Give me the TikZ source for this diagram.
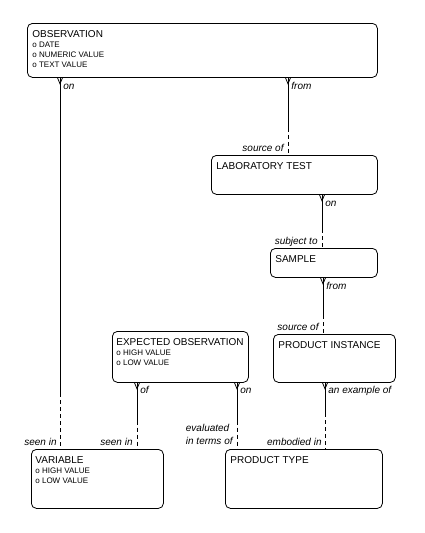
\documentclass[tikz,border=0pt]{standalone}
\usepackage{fontspec}
\setmainfont{Liberation Sans}
\usetikzlibrary{calc}

\tikzset{
  entity/.style={draw, rounded corners=5, anchor=north west, inner sep=0, line width=0.8pt},
  title/.style={anchor=base west, inner sep=0, font=\fontsize{10}{11}\selectfont},
  attr/.style={anchor=north west, inner sep=0, align=left, font=\fontsize{8}{10}\selectfont},
  rlab/.style={anchor=base west, inner sep=0, font=\fontsize{10}{13}\selectfont\itshape},
  llab/.style={anchor=base east, inner sep=0, align=left, font=\fontsize{10}{13}\selectfont\itshape},
  opt/.style={dash pattern=on 4pt off 3pt}
}

% crow's foot at the many end, solid half, dashed half
\newcommand{\rel}[3]{%
  \draw ($(#1)+(-2.5,0)$) -- ($(#1)+(0,6)$) -- ($(#1)+(2.5,0)$);
  \draw (#1) -- ($(#1)!#3!(#2)$);
  \draw[opt] ($(#1)!#3!(#2)$) -- (#2);
}

\begin{document}
\begin{tikzpicture}[x=1pt, y=-1pt, line width=0.8pt]
  \useasboundingbox (0,0) rectangle (425,533);

  % Entities
  \node[entity, minimum width=350, minimum height=54] (obs) at (27,23) {};
  \node[entity, minimum width=166, minimum height=39] (lab) at (211,155) {};
  \node[entity, minimum width=107, minimum height=29] (smp) at (270,248) {};
  \node[entity, minimum width=136, minimum height=51] (expo) at (112,331) {};
  \node[entity, minimum width=122, minimum height=48] (pins) at (273,334) {};
  \node[entity, minimum width=132, minimum height=59] (var) at (31,449) {};
  \node[entity, minimum width=157, minimum height=59] (ptype) at (225,449) {};

  % Titles and attributes
  \node[title] (obs-t) at ([shift={(5,14)}]obs.north west) {OBSERVATION};
  \node[attr] (obs-a) at ([shift={(5,18.5)}]obs.north west) {o DATE\\o NUMERIC VALUE\\o TEXT VALUE};
  \node[title] (lab-t) at ([shift={(5,14)}]lab.north west) {LABORATORY TEST};
  \node[title] (smp-t) at ([shift={(5,14)}]smp.north west) {SAMPLE};
  \node[title] (expo-t) at ([shift={(4,14)}]expo.north west) {EXPECTED OBSERVATION};
  \node[attr] (expo-a) at ([shift={(4,18.5)}]expo.north west) {o HIGH VALUE\\o LOW VALUE};
  \node[title] (pins-t) at ([shift={(5,14)}]pins.north west) {PRODUCT INSTANCE};
  \node[title] (var-t) at ([shift={(4,14)}]var.north west) {VARIABLE};
  \node[attr] (var-a) at ([shift={(4,18.5)}]var.north west) {o HIGH VALUE\\o LOW VALUE};
  \node[title] (ptype-t) at ([shift={(5,14)}]ptype.north west) {PRODUCT TYPE};

  % Relationship lines
  \coordinate (c1) at (60,0);
  \coordinate (c2) at (288,0);
  \coordinate (c3) at (322,0);
  \coordinate (c4) at (323,0);
  \coordinate (c5) at (325,0);
  \coordinate (c6) at (137,0);
  \coordinate (c7) at (237,0);

  \rel{obs.south -| c1}{var.north -| c1}{.85}
  \rel{obs.south -| c2}{lab.north -| c2}{.65}
  \rel{lab.south -| c3}{smp.north -| c3}{.65}
  \rel{smp.south -| c4}{pins.north -| c4}{.67}
  \rel{pins.south -| c5}{ptype.north -| c5}{.46}
  \rel{expo.south -| c6}{var.north -| c6}{.57}
  \rel{expo.south -| c7}{ptype.north -| c7}{.57}

  % Relationship names
  \node[rlab] (n1) at ($(obs.south -| c1)+(3,12)$) {on};
  \node[llab] (n2) at ($(var.north -| c1)+(-3,-4)$) {seen in};
  \node[rlab] (n3) at ($(obs.south -| c2)+(3,12)$) {from};
  \node[llab] (n4) at ($(lab.north -| c2)+(-4,-4)$) {source of};
  \node[rlab] (n5) at ($(lab.south -| c3)+(3,12)$) {on};
  \node[llab] (n6) at ($(smp.north -| c3)+(-4,-4)$) {subject to};
  \node[rlab] (n7) at ($(smp.south -| c4)+(3,12)$) {from};
  \node[llab] (n8) at ($(pins.north -| c4)+(-4,-4)$) {source of};
  \node[rlab] (n9) at ($(pins.south -| c5)+(3,11)$) {an example of};
  \node[llab] (n10) at ($(ptype.north -| c5)+(-3,-4)$) {embodied in};
  \node[rlab] (n11) at ($(expo.south -| c6)+(3,11)$) {of};
  \node[llab] (n12) at ($(var.north -| c6)+(-4,-4)$) {seen in};
  \node[rlab] (n13) at ($(expo.south -| c7)+(3,11)$) {on};
  \node[llab, anchor=south east] (n14) at ($(ptype.north -| c7)+(-4,-4)$) {evaluated\\in terms of};
\end{tikzpicture}
\end{document}
